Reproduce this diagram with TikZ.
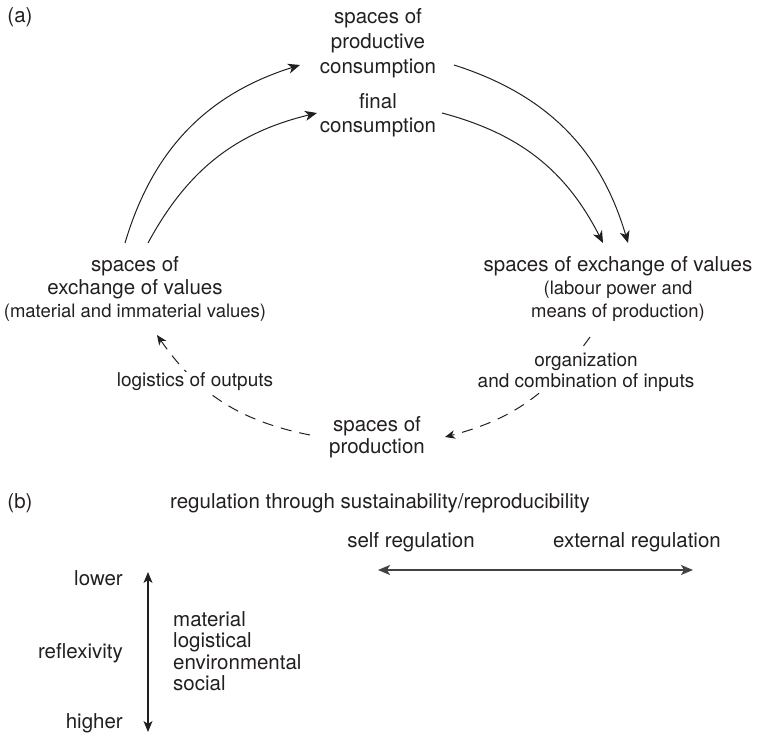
\documentclass[tikz,border=0pt]{standalone}
\usepackage{fontspec}
\setmainfont{TeX Gyre Heros}
\usetikzlibrary{arrows.meta}
\definecolor{ink}{HTML}{231F20}
\begin{document}
\begin{tikzpicture}[x=1pt,y=1pt]
\tikzset{
  txt/.style={inner sep=0pt, text=ink, font=\fontsize{20.5}{24}\selectfont, align=center},
  lab/.style={inner sep=1pt, fill=white, text=ink, font=\fontsize{19}{21}\selectfont, align=center},
  solidarrow/.style={draw=ink, line width=1pt, -{Stealth[length=12pt,width=10pt,inset=3.5pt]}},
  dashedarrow/.style={draw=ink, line width=1pt, dash pattern=on 11pt off 8pt, -{Stealth[length=10pt,width=8.5pt,inset=3pt]}},
  twoway/.style={draw=ink!85, line width=1.6pt, {Stealth[length=12pt,width=10pt,inset=3pt]}-{Stealth[length=12pt,width=10pt,inset=3pt]}},
  upDown/.style={draw=ink, line width=1.2pt, {Stealth[length=11pt,width=9pt,inset=3pt]}-{Stealth[length=11pt,width=9pt,inset=3pt]}}
}
\useasboundingbox (0,0) rectangle (758,-735);
% (a)
\node[txt] (a) at (20,-17) {(a)};
\node[txt, font=\fontsize{20.5}{25}\selectfont] (prodcons) at (378,-43) {spaces of\\productive\\consumption};
\node[txt, font=\fontsize{20.5}{24}\selectfont] (finalcons) at (378,-115) {final\\consumption};
\node[txt, font=\fontsize{20.5}{23}\selectfont] (exout) at (135,-289) {spaces of\\exchange of values\\{\fontsize{18.5}{22}\selectfont (material and immaterial values)}};
\node[txt, font=\fontsize{20.5}{23}\selectfont] (exin) at (618,-289) {spaces of exchange of values\\{\fontsize{18.5}{22}\selectfont (labour power and}\\{\fontsize{18.5}{22}\selectfont means of production)}};
\node[txt, font=\fontsize{20.5}{22}\selectfont] (prod) at (377,-437) {spaces of\\production};
% solid flows
\draw[solidarrow] ([shift={(-10,46)}]exout.center) to[bend left=28] ([shift={(-78,-22)}]prodcons.center);
\draw[solidarrow] ([shift={(13,46)}]exout.center) to[bend left=24] ([shift={(-61,2)}]finalcons.center);
\draw[solidarrow] ([shift={(76,-22)}]prodcons.center) to[bend left=28] ([shift={(10,46)}]exin.center);
\draw[solidarrow] ([shift={(64,2)}]finalcons.center) to[bend left=24] ([shift={(-15,46)}]exin.center);
% dashed flows
\draw[dashedarrow] ([shift={(-28,-48)}]exin.center) to[bend left=20] ([shift={(68,0)}]prod.center);
\draw[dashedarrow] ([shift={(-67,2)}]prod.center) to[bend left=22] ([shift={(22,-46)}]exout.center);
\node[lab] (logout) at (195,-382) {logistics of outputs};
\node[lab] (orgin) at (586,-372.5) {organization\\and combination of inputs};
% (b)
\node[txt] (b) at (20,-503) {(b)};
\node[txt] (regtitle) at (380,-503) {regulation through sustainability/reproducibility};
\node[txt] (selfreg) at (411,-542) {self regulation};
\node[txt] (extreg) at (637,-542) {external regulation};
\draw[twoway] ([shift={(-33,-28)}]selfreg.center) -- ([shift={(56,-28)}]extreg.center);
\node[txt, anchor=base east] (lower) at (123,-585) {lower};
\node[txt, anchor=base east] (reflex) at (123,-658) {reflexivity};
\node[txt, anchor=base east] (higher) at (123,-728) {higher};
\draw[upDown] ([shift={(25,13)}]lower.base east) -- ([shift={(25,-4)}]higher.base east);
\node[txt, align=left, anchor=north west, font=\fontsize{20.5}{21.5}\selectfont] (dims) at (173,-611) {material\\logistical\\environmental\\social};
\end{tikzpicture}
\end{document}
